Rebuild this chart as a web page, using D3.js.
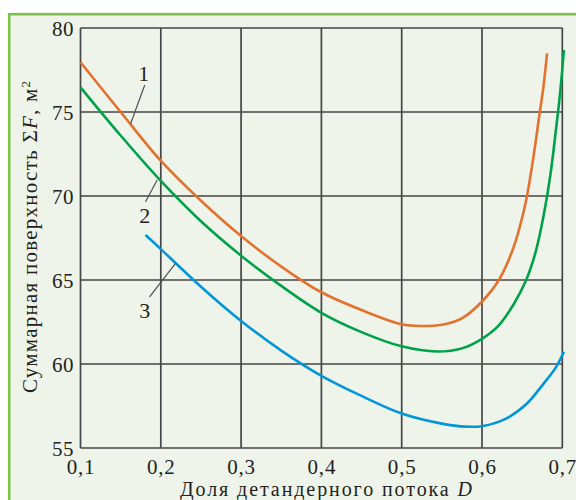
<!DOCTYPE html>
<html>
<head>
<meta charset="utf-8">
<script src="https://cdn.jsdelivr.net/npm/d3@7"></script>
<style>
  html, body { margin: 0; padding: 0; background: #ffffff; }
  svg { display: block; }
  svg text { font-family: "Liberation Serif", "DejaVu Serif", serif !important; fill: #231f20; }
</style>
</head>
<body>
<svg id="chart" width="576" height="500"></svg>
<script>
// ---- data ----
const xTicks = [0.1, 0.2, 0.3, 0.4, 0.5, 0.6, 0.7];
const xTickLabels = ["0,1", "0,2", "0,3", "0,4", "0,5", "0,6", "0,7"];
const yTicks = [55, 60, 65, 70, 75, 80];
const yTickLabels = ["55", "60", "65", "70", "75", "80"];

const curveNames = ["1", "2", "3"];

// curve 1 (orange)
const d1 = [0.1, 0.15, 0.2, 0.25, 0.3, 0.35, 0.4, 0.45, 0.5, 0.525, 0.55, 0.575, 0.6, 0.621, 0.6396, 0.652, 0.656, 0.664, 0.672, 0.6765, 0.681];
const f1 = [77.96, 75.0, 72.1, 69.72, 67.62, 65.8, 64.27, 63.21, 62.36, 62.26, 62.34, 62.72, 63.72, 65.0, 66.98, 69.1, 70.0, 72.3, 75.0, 76.5, 78.49];

// curve 2 (green)
const d2 = [0.1, 0.15, 0.2, 0.25, 0.3, 0.35, 0.4, 0.45, 0.5, 0.544, 0.575, 0.6, 0.62, 0.64, 0.655, 0.667, 0.677, 0.685, 0.692, 0.697, 0.702];
const f2 = [76.47, 73.6, 70.9, 68.5, 66.45, 64.65, 63.05, 61.9, 61.05, 60.74, 60.93, 61.5, 62.25, 63.6, 65.0, 66.7, 68.9, 71.2, 73.9, 76.0, 78.69];

// curve 3 (blue)
const d3v = [0.181, 0.2, 0.25, 0.3, 0.35, 0.4, 0.45, 0.5, 0.55, 0.58, 0.6, 0.63, 0.655, 0.677, 0.692, 0.702];
const f3 = [67.68, 66.84, 64.6, 62.56, 60.8, 59.3, 58.1, 57.05, 56.45, 56.27, 56.3, 56.75, 57.6, 58.85, 59.8, 60.73];

// label anchors (data units): text position, leader start, leader end
const labelD = [0.1788, 0.180, 0.180];
const labelF = [77.30, 68.87, 63.21];
const leaderFromD = [0.180, 0.181, 0.186];
const leaderFromF = [76.61, 69.66, 64.0];
const leaderToD = [0.1623, 0.1955, 0.2183];
const leaderToF = [74.29, 70.95, 65.99];

const colors = ["#e2722e", "#00a14b", "#0096d8"];

// ---- drawing ----
const svg = d3.select("#chart");
const W = 576, H = 500;

// panel
svg.append("rect")
  .attr("x", 9.2).attr("y", 14.2)
  .attr("width", W + 20).attr("height", H + 20)
  .attr("fill", "#eef4e9")
  .attr("stroke", "#7cc24a")
  .attr("stroke-width", 2.6);

const x = d3.scaleLinear().domain([0.1, 0.7]).range([80.5, 562.3]);
const y = d3.scaleLinear().domain([55, 80]).range([448, 28]);

const gridColor = "#464646";

// grid
const g = svg.append("g");
g.selectAll("line.vx").data(xTicks).join("line")
  .attr("x1", d => x(d)).attr("x2", d => x(d))
  .attr("y1", y(80)).attr("y2", y(55))
  .attr("stroke", gridColor).attr("stroke-width", 1.7);
g.selectAll("line.hy").data(yTicks).join("line")
  .attr("x1", x(0.1)).attr("x2", x(0.7))
  .attr("y1", d => y(d)).attr("y2", d => y(d))
  .attr("stroke", gridColor).attr("stroke-width", 1.7);

// axes (labels only, via d3 axes)
const xAxis = d3.axisBottom(x).tickValues(xTicks)
  .tickFormat((d, i) => xTickLabels[i]).tickSize(0).tickPadding(0);
const gx = svg.append("g").attr("transform", `translate(0,${y(55)})`).call(xAxis);
gx.attr("font-family", null);
gx.select(".domain").remove();
gx.selectAll("text")
  .attr("y", 26).attr("dy", null)
  .style("font-size", "21px").style("letter-spacing", "0.8px").attr("fill", "#231f20");

const yAxis = d3.axisLeft(y).tickValues(yTicks)
  .tickFormat((d, i) => yTickLabels[i]).tickSize(0).tickPadding(0);
const gy = svg.append("g").attr("transform", `translate(${x(0.1)},0)`).call(yAxis);
gy.attr("font-family", null);
gy.select(".domain").remove();
gy.selectAll("text")
  .attr("x", -6.5).attr("dy", "0.36em")
  .style("font-size", "21px").style("letter-spacing", "0.5px").attr("fill", "#231f20");

// curves
const line = d3.line().x(d => x(d[0])).y(d => y(d[1])).curve(d3.curveCatmullRom.alpha(0.5));
const series = [d3.zip(d1, f1), d3.zip(d2, f2), d3.zip(d3v, f3)];
svg.append("g").selectAll("path").data(series).join("path")
  .attr("d", line)
  .attr("fill", "none")
  .attr("stroke", (d, i) => colors[i])
  .attr("stroke-width", 2.6)
  .attr("stroke-linecap", "butt");

// leaders and labels
const ann = svg.append("g");
ann.selectAll("line").data(curveNames).join("line")
  .attr("x1", (d, i) => x(leaderFromD[i])).attr("y1", (d, i) => y(leaderFromF[i]))
  .attr("x2", (d, i) => x(leaderToD[i])).attr("y2", (d, i) => y(leaderToF[i]))
  .attr("stroke", "#505050").attr("stroke-width", 1.2);
ann.selectAll("text").data(curveNames).join("text")
  .attr("x", (d, i) => x(labelD[i])).attr("y", (d, i) => y(labelF[i]))
  .attr("dy", "0.35em")
  .attr("text-anchor", "middle")
  .style("font-size", "22px")
  .text(d => d);

// x title
const xt = svg.append("text")
  .attr("x", 326).attr("y", 496)
  .attr("text-anchor", "middle")
  .attr("textLength", 292)
  .attr("lengthAdjust", "spacing")
  .style("font-size", "20px");
xt.append("tspan").text("Доля детандерного потока ");
xt.append("tspan").style("font-style", "italic").text("D");

// y title
const yt = svg.append("text")
  .attr("transform", "translate(37,237) rotate(-90)")
  .attr("text-anchor", "middle")
  .attr("textLength", 312)
  .attr("lengthAdjust", "spacing")
  .style("font-size", "21px");
yt.append("tspan").text("Суммарная поверхность Σ");
yt.append("tspan").style("font-style", "italic").text("F");
yt.append("tspan").text(", м");
yt.append("tspan").attr("dy", "-0.55em").style("font-size", "13px").text("2");
</script>
</body>
</html>
